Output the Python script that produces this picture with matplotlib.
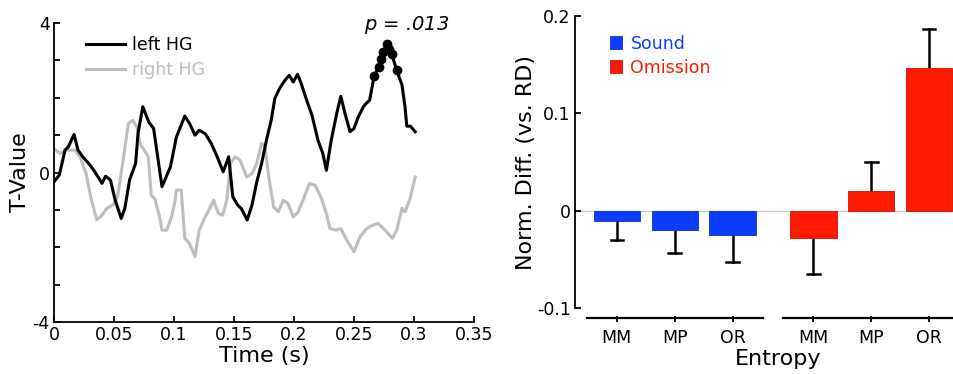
import matplotlib.pyplot as plt
import matplotlib.transforms as mtransforms

plt.rcParams['font.family'] = ['DejaVu Sans']

# left panel: T-values over time
t_left = [0, 0.0044, 0.0092, 0.012, 0.0167, 0.020, 0.024, 0.030, 0.034, 0.040, 0.043, 0.047,
          0.051, 0.056, 0.059, 0.063, 0.068, 0.070, 0.074, 0.079, 0.083, 0.086, 0.090, 0.097,
          0.102, 0.109, 0.113, 0.1175, 0.121, 0.126, 0.131, 0.136, 0.141, 0.1456, 0.147, 0.149,
          0.153, 0.156, 0.161, 0.165, 0.169, 0.173, 0.177, 0.181, 0.184, 0.188, 0.1925, 0.196,
          0.1994, 0.203, 0.206, 0.2106, 0.215, 0.220, 0.224, 0.227, 0.231, 0.2356, 0.239, 0.2425,
          0.2467, 0.250, 0.2536, 0.258, 0.2606, 0.263, 0.2667, 0.2705, 0.274, 0.2778, 0.2814,
          0.2856, 0.290, 0.2925, 0.294, 0.297, 0.301]
v_left = [-0.25, -0.07, 0.60, 0.69, 1.02, 0.60, 0.42, 0.20, 0.02, -0.29, -0.10, -0.20,
          -0.74, -1.23, -0.96, -0.20, 0.24, 1.04, 1.76, 1.35, 1.18, 0.51, -0.38, 0.15,
          0.95, 1.51, 1.31, 1.00, 1.13, 1.04, 0.78, 0.42, 0.02, 0.42, -0.03, -0.65,
          -0.87, -0.96, -1.27, -0.87, -0.25, 0.24, 0.86, 1.40, 1.98, 2.25, 2.47, 2.60,
          2.42, 2.63, 2.38, 1.93, 1.53, 0.86, 0.51, 0.06, 0.86, 1.58, 2.04, 1.58,
          1.09, 1.18, 1.49, 1.77, 1.86, 1.93, 2.57, 2.82, 3.22, 3.45, 3.18,
          2.73, 2.34, 1.76, 1.24, 1.24, 1.09]

# significant cluster points
t_sig = [0.2667, 0.2705, 0.274, 0.2778, 0.2814, 0.2856, 0.2725, 0.2795]
v_sig = [2.57, 2.82, 3.22, 3.45, 3.18, 2.73, 3.05, 3.30]

t_right = [0, 0.005, 0.0106, 0.0175, 0.0217, 0.0267, 0.0306, 0.0356, 0.040, 0.044, 0.049,
           0.053, 0.058, 0.062, 0.0656, 0.069, 0.0717, 0.075, 0.0786, 0.081, 0.084, 0.088,
           0.090, 0.094, 0.098, 0.101, 0.102, 0.106, 0.109, 0.113, 0.1175, 0.121, 0.126,
           0.129, 0.133, 0.137, 0.1406, 0.144, 0.147, 0.151, 0.155, 0.1606, 0.165, 0.169,
           0.173, 0.1758, 0.179, 0.183, 0.187, 0.191, 0.195, 0.1994, 0.2036, 0.208, 0.213,
           0.2175, 0.223, 0.227, 0.230, 0.235, 0.239, 0.244, 0.250, 0.255, 0.2606, 0.2656,
           0.270, 0.2758, 0.282, 0.2856, 0.290, 0.2925, 0.2967, 0.301]
v_right = [0.64, 0.51, 0.60, 0.60, 0.42, -0.03, -0.65, -1.27, -1.14, -0.96, -0.87,
           -0.65, 0.42, 1.31, 1.40, 1.22, 0.78, 0.60, 0.42, -0.61, -0.70, -1.19,
           -1.54, -1.54, -1.19, -0.74, -0.47, -0.47, -1.76, -1.90, -2.25, -1.54, -1.19,
           -1.01, -0.74, -1.10, -1.14, -0.74, 0.24, 0.42, 0.33, -0.12, -0.03, 0.24,
           0.78, 0.69, -0.12, -0.92, -1.05, -0.74, -0.83, -1.19, -1.05, -0.70, -0.29,
           -0.34, -0.70, -1.10, -1.50, -1.54, -1.50, -1.81, -2.12, -1.72, -1.50, -1.41,
           -1.36, -1.54, -1.76, -1.54, -0.96, -1.05, -0.70, -0.12]

# right panel: bars
categories = ['MM', 'MP', 'OR']
sound_vals = [-0.011, -0.020, -0.025]
sound_err = [0.019, 0.023, 0.028]
omission_vals = [-0.028, 0.020, 0.147]
omission_err = [0.037, 0.030, 0.040]

blue = '#0a3cff'
red = '#ff1a00'
gray = '#bdbdbd'

fig = plt.figure(figsize=(9.54, 3.74), dpi=100)

# ---- left panel
ax = fig.add_axes([54 / 954, 1 - 322 / 374, 420 / 954, 299 / 374])
ax.plot(t_left, v_left, color='black', lw=2.2, label='left HG', zorder=3)
ax.plot(t_right, v_right, color=gray, lw=2.2, label='right HG', zorder=2)
ax.plot(t_sig, v_sig, 'o', color='black', ms=6, zorder=4)
ax.set_xlim(0, 0.35)
ax.set_ylim(-4, 4)
ax.set_xticks([0, 0.05, 0.1, 0.15, 0.2, 0.25, 0.3, 0.35])
ax.set_xticklabels(['0', '0.05', '0.1', '0.15', '0.2', '0.25', '0.3', '0.35'])
ax.set_yticks(range(-4, 5))
ax.set_yticklabels(['-4', '', '', '', '0', '', '', '', '4'])
for s in ['top', 'right']:
    ax.spines[s].set_visible(False)
for s in ['left', 'bottom']:
    ax.spines[s].set_linewidth(1.3)
ax.tick_params(direction='in', length=4, width=1.3, labelsize=12.5, pad=3)
ax.set_xlabel('Time (s)', fontsize=16, labelpad=1)
ax.set_ylabel('T-Value', fontsize=16)
ax.yaxis.set_label_coords(-0.056, 0.5)
ax.text(0.294, 3.95, r'$p$ = .013', style='italic', fontsize=14, ha='center', va='center')
leg = ax.legend(loc='upper left', bbox_to_anchor=(0.04, 1.01), frameon=False,
                fontsize=12.5, handlelength=2.2, handletextpad=0.4, labelspacing=0.45,
                labelcolor='linecolor')

# ---- right panel
bx = fig.add_axes([575 / 954, 1 - 308 / 374, 379 / 954, 292 / 374])
x1 = [1, 2, 3]
x2 = [4.4, 5.4, 6.4]
bx.axhline(0, color='#c8c8c8', lw=1, zorder=0)
bx.bar(x1, sound_vals, width=0.8, color=blue, edgecolor='#1530c0', lw=0.6, label='Sound', zorder=2)
bx.bar(x2, omission_vals, width=0.8, color=red, edgecolor='#d01000', lw=0.6, label='Omission', zorder=2)
# one-sided error bars, away from zero
cap = 0.11
for xs, vals, errs in [(x1, sound_vals, sound_err), (x2, omission_vals, omission_err)]:
    for x, v, e in zip(xs, vals, errs):
        end = v - e if v < 0 else v + e
        bx.plot([x, x], [v, end], color='black', lw=1.8, zorder=1)
        bx.plot([x - cap, x + cap], [end, end], color='black', lw=1.8, zorder=1)
bx.set_xlim(0.276, 6.83)
bx.set_ylim(-0.1, 0.2)
bx.set_yticks([-0.1, 0, 0.1, 0.2])
bx.set_yticklabels(['-0.1', '0', '0.1', '0.2'])
bx.set_xticks(x1 + x2)
bx.set_xticklabels(categories + categories)
for s in ['top', 'right']:
    bx.spines[s].set_visible(False)
bx.spines['left'].set_linewidth(1.3)
bx.spines['bottom'].set_position(('outward', 10))
bx.spines['bottom'].set_visible(False)
bx.tick_params(direction='in', length=4, width=1.3, labelsize=12.5, pad=3)
bx.tick_params(axis='x', pad=5)
# split baseline
tr = mtransforms.offset_copy(bx.get_xaxis_transform(), fig=fig, y=-10, units='dots')
for a, b in [(0.48, 3.52), (3.88, 6.9)]:
    bx.plot([a, b], [0, 0], color='black', lw=1.6, transform=tr, clip_on=False)
bx.set_xlabel('Entropy', fontsize=16)
bx.xaxis.set_label_coords(0.535, -0.14)
bx.set_ylabel('Norm. Diff. (vs. RD)', fontsize=16, labelpad=1)
bx.legend(loc='upper left', bbox_to_anchor=(0.05, 0.99), frameon=False, fontsize=12.5,
          handlelength=0.7, handleheight=0.8, handletextpad=0.5, labelspacing=0.35,
          labelcolor=[blue, red])

fig.savefig('out.png', dpi=100)
